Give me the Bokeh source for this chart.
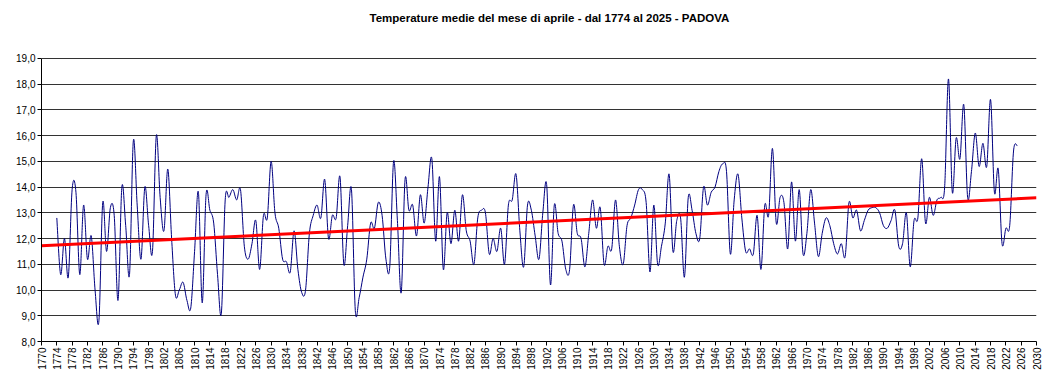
import math
from bokeh.plotting import figure
from bokeh.models import FixedTicker, ColumnDataSource, Range1d, Label
from bokeh.embed import file_html
from bokeh.resources import INLINE

title_text = "Temperature medie del mese di aprile - dal 1774 al 2025 - PADOVA"

first_year = 1774
april_temps = [
    12.8, 10.6, 12.0, 10.5, 13.9, 13.8, 10.6, 13.3, 11.2, 12.1,   # 1774-1783
    10.0, 8.8, 13.4, 11.5, 13.2, 12.9, 9.6, 14.0, 12.5, 10.6,     # 1784-1793
    15.8, 13.3, 11.2, 14.0, 12.5, 11.5, 16.0, 13.6, 12.3, 14.7,   # 1794-1803
    12.0, 9.8, 10.0, 10.3, 9.6, 9.3, 11.5, 13.8, 9.5, 13.7,       # 1804-1813
    13.1, 12.6, 10.6, 9.1, 13.5, 13.6, 13.9, 13.5, 13.9, 11.7,    # 1814-1823
    11.2, 11.8, 12.7, 10.8, 12.9, 12.8, 15.0, 13.0, 12.4, 11.2,   # 1824-1833
    11.1, 10.7, 12.3, 10.8, 9.9, 10.0, 12.2, 12.9, 13.3, 12.8,    # 1834-1843
    14.3, 12.0, 12.9, 12.8, 14.4, 11.0, 12.5, 13.9, 9.2, 9.7,     # 1844-1853
    10.5, 11.2, 12.6, 12.4, 13.4, 12.9, 11.2, 10.9, 15.0, 12.7,   # 1854-1863
    9.9, 14.3, 13.1, 13.3, 12.1, 13.7, 12.6, 14.0, 15.1, 11.9,    # 1864-1873
    14.4, 10.8, 13.0, 11.8, 13.1, 11.9, 13.7, 12.3, 11.9, 11.0,   # 1874-1883
    12.8, 13.1, 13.0, 11.4, 12.0, 11.5, 12.4, 11.0, 13.3, 13.5,   # 1884-1893
    14.5, 12.3, 10.9, 13.3, 13.1, 12.1, 11.2, 13.0, 14.1, 10.2,   # 1894-1903
    13.3, 12.2, 11.9, 10.8, 10.8, 13.3, 12.2, 12.0, 10.9, 12.2,   # 1904-1913
    13.5, 12.4, 13.2, 11.0, 11.7, 11.6, 13.5, 11.7, 11.0, 12.5,   # 1914-1923
    12.8, 13.3, 13.9, 13.9, 13.4, 10.7, 13.3, 11.0, 11.7, 12.6,   # 1924-1933
    14.5, 11.5, 12.7, 12.8, 10.5, 13.6, 13.1, 12.2, 12.0, 14.0,   # 1934-1943
    13.3, 13.8, 14.0, 14.6, 14.9, 14.6, 11.4, 13.5, 14.5, 12.8,   # 1944-1953
    11.5, 11.6, 11.4, 12.9, 10.8, 13.3, 12.9, 15.5, 12.6, 13.6,   # 1954-1963
    13.4, 11.6, 14.2, 11.9, 13.9, 11.4, 12.2, 13.9, 12.6, 11.3,   # 1964-1973
    12.2, 12.8, 12.5, 11.8, 11.4, 11.8, 11.3, 13.4, 12.8, 13.1,   # 1974-1983
    12.3, 12.7, 13.1, 13.2, 13.2, 13.0, 12.5, 12.4, 12.7, 13.1,   # 1984-1993
    11.7, 11.8, 13.0, 10.9, 12.7, 12.8, 15.1, 12.6, 13.6, 12.9,   # 1994-2003
    13.5, 13.6, 14.0, 18.2, 13.8, 15.9, 15.1, 17.2, 13.6, 14.6,   # 2004-2013
    16.1, 14.8, 15.7, 14.8, 17.4, 13.8, 14.7, 11.8, 12.4, 12.5,   # 2014-2023
    15.4, 15.6,                                                   # 2024-2025
]
years = list(range(first_year, first_year + len(april_temps)))

trend_years = [1770, 2030]
trend_values = [11.72, 13.58]

x_ticks = list(range(1770, 2031, 4))
y_ticks = list(range(8, 20))
y_tick_labels = ["8,0", "9,0", "10,0", "11,0", "12,0", "13,0", "14,0",
                 "15,0", "16,0", "17,0", "18,0", "19,0"]

# smoothed line (Excel-style Catmull-Rom bezier segments through the points)
n = len(years)
seg = dict(x0=[], y0=[], x1=[], y1=[], cx0=[], cy0=[], cx1=[], cy1=[])
for i in range(n - 1):
    a = max(i - 1, 0)
    b = min(i + 2, n - 1)
    seg["x0"].append(years[i]); seg["y0"].append(april_temps[i])
    seg["x1"].append(years[i + 1]); seg["y1"].append(april_temps[i + 1])
    seg["cx0"].append(years[i] + (years[i + 1] - years[a]) / 6.0)
    seg["cy0"].append(april_temps[i] + (april_temps[i + 1] - april_temps[a]) / 6.0)
    seg["cx1"].append(years[i + 1] - (years[b] - years[i]) / 6.0)
    seg["cy1"].append(april_temps[i + 1] - (april_temps[b] - april_temps[i]) / 6.0)
src = ColumnDataSource(seg)

FONT = "Liberation Sans"
W, H = 1058, 372
BL, BR, BT, BB = 41, 22, 10, 30
PLOT_TOP_PX = 58          # where the 19,0 line sits (from top of canvas)
frame_h = H - BT - BB
px_per_unit = (H - BB - PLOT_TOP_PX) / 11.0
y_top = 8 + frame_h / px_per_unit   # free space above 19,0 for the title

p = figure(width=W, height=H,
           x_range=Range1d(1770, 2030), y_range=Range1d(8, y_top),
           output_backend="svg", toolbar_location=None,
           min_border_left=BL, min_border_right=BR,
           min_border_top=BT, min_border_bottom=BB)

p.background_fill_color = "white"
p.border_fill_color = "white"
p.outline_line_color = None

title = Label(x=328, y=frame_h - (18 - BT), x_units="screen", y_units="screen",
              text=title_text, text_font=FONT, text_font_size="11.5px",
              text_font_style="bold", text_color="black",
              text_baseline="middle", text_align="left")
p.add_layout(title)

p.bezier(x0="x0", y0="y0", x1="x1", y1="y1", cx0="cx0", cy0="cy0",
         cx1="cx1", cy1="cy1", source=src, line_color="#000080", line_width=1)
p.line(trend_years, trend_values, line_color="#ff0000", line_width=3)

p.xgrid.visible = False
p.ygrid.ticker = FixedTicker(ticks=y_ticks)
p.ygrid.grid_line_color = "#333333"
p.ygrid.grid_line_width = 1

p.yaxis.ticker = FixedTicker(ticks=y_ticks)
p.yaxis.bounds = (8, 19)
p.yaxis.major_label_overrides = {t: lab for t, lab in zip(y_ticks, y_tick_labels)}
p.xaxis.ticker = FixedTicker(ticks=x_ticks)
p.xaxis.major_label_orientation = math.pi / 2

for ax in (p.xaxis, p.yaxis):
    ax.axis_line_color = "black"
    ax.axis_line_width = 1
    ax.major_tick_line_color = "black"
    ax.major_tick_out = 4
    ax.major_tick_in = 0
    ax.minor_tick_line_color = None
    ax.major_label_text_font = FONT
    ax.major_label_text_font_size = "10px"
    ax.major_label_text_color = "black"
    ax.major_label_standoff = 2

open("out.html", "w").write(file_html(p, INLINE))
